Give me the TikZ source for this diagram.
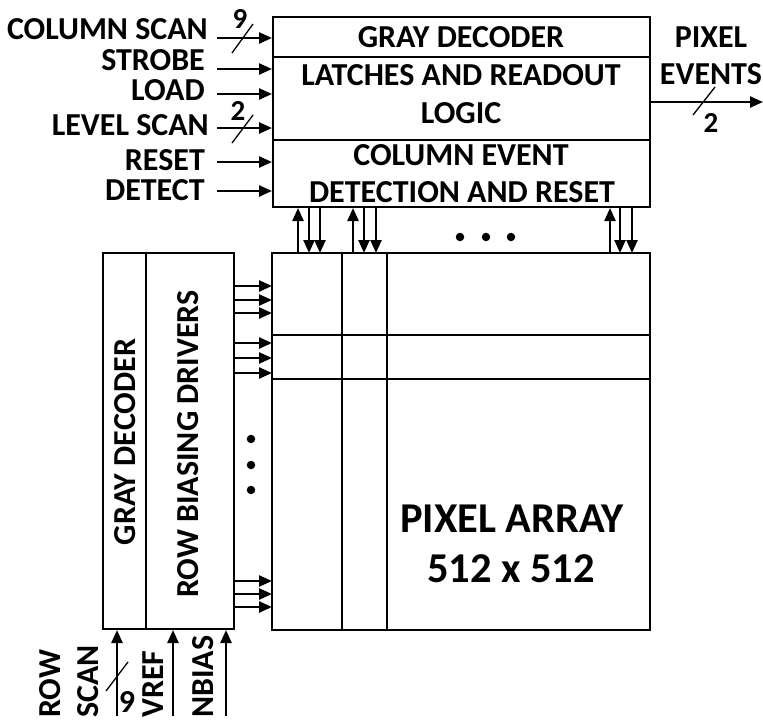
\documentclass[tikz,border=0pt]{standalone}
\usepackage{fontspec}
\setmainfont{Carlito}
\usetikzlibrary{arrows.meta}
\begin{document}
\begin{tikzpicture}[x=1pt,y=-1pt,
 lbl/.style={inner sep=0pt, font=\fontsize{32}{38}\selectfont\bfseries},
 num/.style={inner sep=0pt, font=\fontsize{29}{34}\selectfont\bfseries},
 big/.style={inner sep=0pt, font=\fontsize{42.5}{50}\selectfont\bfseries},
 box/.style={draw, line width=2.8pt, inner sep=0pt},
 thinl/.style={line width=1.4pt},
 arr/.style={line width=2.4pt, -{Triangle[length=13pt,width=11pt]}},
 slash/.style={line width=1.3pt},
 dot/.style={circle, fill, inner sep=0pt, minimum size=8.5pt}]
\useasboundingbox (0,0) rectangle (763,721);

% blocks
\node[box, minimum width=377pt, minimum height=190pt] (ctrl) at (461.5,112) {};
\node[box, minimum width=378pt, minimum height=377pt] (pa) at (461,441.5) {};
\node[box, minimum width=131pt, minimum height=376pt] (rowblk) at (168.5,441) {};

% dividers in control block
\draw[thinl] (273,57) -- (650,57);
\draw[thinl] (273,140) -- (650,140);
% divider in row block
\draw[thinl] (146,253) -- (146,629);
% pixel array grid
\draw[thinl] (342,253) -- (342,630);
\draw[thinl] (387,253) -- (387,630);
\draw[thinl] (272,335) -- (650,335);
\draw[thinl] (272,379) -- (650,379);

% control block texts
\node[lbl, anchor=base] (t1) at (461,47) {GRAY DECODER};
\node[lbl, anchor=base] (t2) at (461,85) {LATCHES AND READOUT};
\node[lbl, anchor=base] (t3) at (461,123) {LOGIC};
\node[lbl, anchor=base] (t4) at (461,165) {COLUMN EVENT};
\node[lbl, anchor=base] (t5) at (462,202) {DETECTION AND RESET};

% pixel array text
\node[big, anchor=base] (p1) at (512,532) {PIXEL ARRAY};
\node[big, anchor=base] (p2) at (511,582) {512 x 512};

% row block texts
\node[lbl, anchor=base, rotate=90] (g1) at (135,442) {GRAY DECODER};
\node[lbl, anchor=base, rotate=90] (g2) at (198,444) {ROW BIASING DRIVERS};

% left inputs
\node[lbl, anchor=base east] (l1) at (208,39) {COLUMN SCAN};
\node[lbl, anchor=base east] (l2) at (205,70) {STROBE};
\node[lbl, anchor=base east] (l3) at (205,100) {LOAD};
\node[lbl, anchor=base east] (l4) at (209,135) {LEVEL SCAN};
\node[lbl, anchor=base east] (l5) at (205,170) {RESET};
\node[lbl, anchor=base east] (l6) at (205,200) {DETECT};
\foreach \y in {38,69,94,128,162,191}
  \draw[arr] (217,\y) -- (272,\y);
\draw[slash] (232,53) -- (253,24);
\draw[slash] (232,143) -- (253,115);
\node[num, anchor=base] (n9a) at (240,28) {9};
\node[num, anchor=base] (n2a) at (238,120) {2};

% output
\node[lbl, anchor=base] (o1) at (711,47) {PIXEL};
\node[lbl, anchor=base] (o2) at (711,84) {EVENTS};
\draw[arr] (651,102) -- (763,102);
\draw[slash] (693,115) -- (715,87);
\node[num, anchor=base] (n2b) at (711,132) {2};

% column arrows
\foreach \x in {298,353,610}
  \draw[arr] (\x,253) -- (\x,208);
\foreach \x in {309,320,364,376,620,632}
  \draw[arr] (\x,208) -- (\x,253);
\node[dot] (d1) at (460,237) {};
\node[dot] (d2) at (486,237) {};
\node[dot] (d3) at (511,237) {};

% row arrows
\foreach \y in {286,300,313,343,358,373,581,594,607}
  \draw[arr] (235,\y) -- (272,\y);
\node[dot] (v1) at (251,439) {};
\node[dot] (v2) at (251,465) {};
\node[dot] (v3) at (251,490) {};

% bottom inputs
\foreach \x in {117,173,226}
  \draw[arr] (\x,716) -- (\x,630);
\draw[slash] (106,691) -- (128,662);
\node[lbl, anchor=base] (n9b) at (127,712) {9};
\node[lbl, anchor=base west, rotate=90] (b1) at (60,718) {ROW};
\node[lbl, anchor=base west, rotate=90] (b2) at (98,718) {SCAN};
\node[lbl, anchor=base west, rotate=90] (b3) at (163,718) {VREF};
\node[lbl, anchor=base west, rotate=90] (b4) at (213,718) {NBIAS};
\end{tikzpicture}
\end{document}
